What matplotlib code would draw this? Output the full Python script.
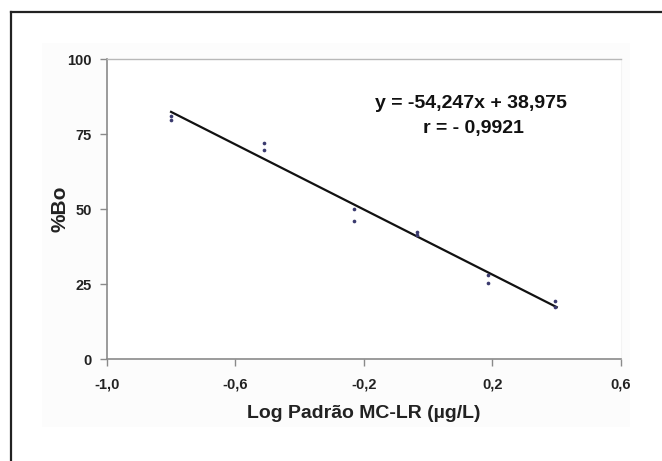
import matplotlib
matplotlib.use("Agg")
import matplotlib.pyplot as plt
from matplotlib.patches import Rectangle
from matplotlib.lines import Line2D
import numpy as np

plt.rcParams['font.family'] = ['Liberation Sans', 'DejaVu Sans']

# data (replicate pairs at each standard)
log_conc = [-0.80, -0.80, -0.51, -0.51, -0.23, -0.23, -0.035, -0.035, 0.185, 0.185, 0.394, 0.394]
pct_bo   = [81.0, 79.7, 72.1, 69.7, 49.9, 45.9, 42.4, 41.3, 28.0, 25.2, 19.4, 17.4]
slope = -54.247
intercept = 38.975
fit_range = [-0.80, 0.40]
xticks = [-1.0, -0.6, -0.2, 0.2, 0.6]
xticklabels = ['-1,0', '-0,6', '-0,2', '0,2', '0,6']
yticks = [0, 25, 50, 75, 100]
eq_text = 'y = -54,247x + 38,975'
r_text = 'r = - 0,9921'

fig = plt.figure(figsize=(6.62, 4.61), dpi=100)
W, H = 662, 461

# faint chart-area background
bg = Rectangle((42/W, 1-427/H), (630-42)/W, (427-43)/H,
               transform=fig.transFigure, facecolor='#fcfcfc',
               edgecolor='none', zorder=-5)
fig.add_artist(bg)
# outer frame (top and left)
fig.add_artist(Line2D([11/W, 1.0], [1-12/H, 1-12/H], transform=fig.transFigure, color='#222222', lw=1.6))
fig.add_artist(Line2D([11/W, 11/W], [1-12/H, 0.0], transform=fig.transFigure, color='#222222', lw=1.6))

ax = fig.add_axes([106.8/W, 1-359/H, (621-106.8)/W, (359-59)/H])
ax.set_zorder(2)
ax.set_facecolor('white')
ax.set_xlim(-1.0, 0.6)
ax.set_ylim(0, 100)

xf = np.array(fit_range)
ax.plot(xf, slope*xf + intercept, color='#111111', lw=1.6, zorder=2)
ax.scatter(log_conc, pct_bo, marker='o', s=7, color='#3a3a6e', zorder=3, linewidths=0)

for side in ['left', 'bottom']:
    ax.spines[side].set_color('#8a8a8a')
    ax.spines[side].set_linewidth(1.2)
ax.spines['top'].set_color('#b8b8b8')
ax.spines['top'].set_linewidth(1.0)
ax.spines['right'].set_color('#f3f3f3')
ax.spines['right'].set_linewidth(0.8)

ax.set_xticks(xticks)
ax.set_xticklabels(xticklabels)
ax.set_yticks(yticks)
ax.tick_params(axis='both', direction='out', length=5, width=1, color='#8a8a8a',
               labelsize=10.5, labelcolor='#222222')
ax.tick_params(axis='x', pad=8)
ax.tick_params(axis='y', pad=6)
for lab in ax.get_xticklabels() + ax.get_yticklabels():
    lab.set_fontweight('bold')

ax.set_xlabel('Log Padrão MC-LR (µg/L)', fontsize=14, fontweight='bold', color='#222222', labelpad=10)
ax.set_ylabel('%Bo', fontsize=15, fontweight='bold', color='#222222')
ax.yaxis.set_label_coords((70 - 106.8) / 514.2, 0.5)

ax.text(471/W, 1-103/H, eq_text, transform=fig.transFigure, ha='center', va='center',
        fontsize=14, fontweight='bold', color='#111111')
ax.text(473/W, 1-128/H, r_text, transform=fig.transFigure, ha='center', va='center',
        fontsize=14, fontweight='bold', color='#111111')

fig.savefig('out.png', dpi=100)
